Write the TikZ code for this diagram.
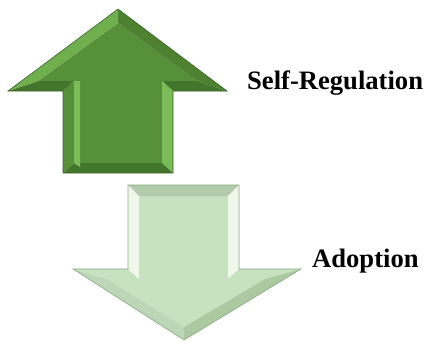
\documentclass[tikz,border=0pt]{standalone}
\usepackage{fontspec}
\setmainfont{Liberation Serif}
\definecolor{upface}{RGB}{86,144,56}
\definecolor{uplight}{RGB}{122,188,88}
\definecolor{updark}{RGB}{66,118,44}
\definecolor{upline}{RGB}{58,100,40}
\definecolor{downface}{RGB}{198,226,190}
\definecolor{downlight}{RGB}{240,248,236}
\definecolor{downdark}{RGB}{172,202,162}
\definecolor{downline}{RGB}{140,165,132}
\tikzset{
  labeltext/.style={anchor=base west, inner sep=0pt,
    font=\fontsize{26.6}{30}\selectfont\bfseries},
}
\begin{document}
\begin{tikzpicture}[x=1pt,y=-1pt]
    \useasboundingbox (0,0) rectangle (426,351);
    % up arrow
    \coordinate (u1) at (118,9);   \coordinate (v1) at (118,23);
    \coordinate (u2) at (227,91);  \coordinate (v2) at (197,81);
    \coordinate (u3) at (173,91);  \coordinate (v3) at (162,81);
    \coordinate (u4) at (173,173); \coordinate (v4) at (162,163);
    \coordinate (u5) at (63,173);  \coordinate (v5) at (74,163);
    \coordinate (u6) at (63,91);   \coordinate (v6) at (74,81);
    \coordinate (u7) at (8,91);    \coordinate (v7) at (38,81);
    \fill [upface] (v1)--(v2)--(v3)--(v4)--(v5)--(v6)--(v7)--cycle;
    \fill [upface!90!black] (u1)--(u2)--(v2)--(v1)--cycle;
    \fill [updark] (u2)--(u3)--(v3)--(v2)--cycle;
    \fill [uplight] (u3)--(u4)--(v4)--(v3)--cycle;
    \fill [updark] (u4)--(u5)--(v5)--(v4)--cycle;
    \fill [upface] (u5)--(u6)--(v6)--(v5)--cycle;
    \fill [updark] (u6)--(u7)--(v7)--(v6)--cycle;
    \fill [uplight!70!upface] (u7)--(u1)--(v1)--(v7)--cycle;
    \fill [uplight] (v6)--([xshift=6pt]v6)--([xshift=6pt,yshift=-4pt]v5)--(v5)--cycle;
    \draw [upline, line width=.6pt] (u1)--(u2)--(u3)--(u4)--(u5)--(u6)--(u7)--cycle;
    % down arrow
    \coordinate (d1) at (128,185); \coordinate (e1) at (139,196);
    \coordinate (d2) at (239,185); \coordinate (e2) at (228,196);
    \coordinate (d3) at (239,269); \coordinate (e3) at (228,279);
    \coordinate (d4) at (301,269); \coordinate (e4) at (265,279);
    \coordinate (d5) at (184,340); \coordinate (e5) at (184,327);
    \coordinate (d6) at (73,269);  \coordinate (e6) at (107,279);
    \coordinate (d7) at (128,269); \coordinate (e7) at (139,279);
    \fill [downface] (e1)--(e2)--(e3)--(e4)--(e5)--(e6)--(e7)--cycle;
    \fill [downface!90!black] (d1)--(d2)--(e2)--(e1)--cycle;
    \fill [downlight] (d2)--(d3)--(e3)--(e2)--cycle;
    \fill [downface] (d3)--(d4)--(e4)--(e3)--cycle;
    \fill [downdark] (d4)--(d5)--(e5)--(e4)--cycle;
    \fill [downface!95!black] (d5)--(d6)--(e6)--(e5)--cycle;
    \fill [downface] (d6)--(d7)--(e7)--(e6)--cycle;
    \fill [downlight] (d7)--(d1)--(e1)--(e7)--cycle;
    \draw [downline, line width=.6pt] (d1)--(d2)--(d3)--(d4)--(d5)--(d6)--(d7)--cycle;
    % labels
    \node [labeltext] (selfreg) at (247,89) {Self-Regulation};
    \node [labeltext] (adopt) at (312,267) {Adoption};
\end{tikzpicture}
\end{document}
